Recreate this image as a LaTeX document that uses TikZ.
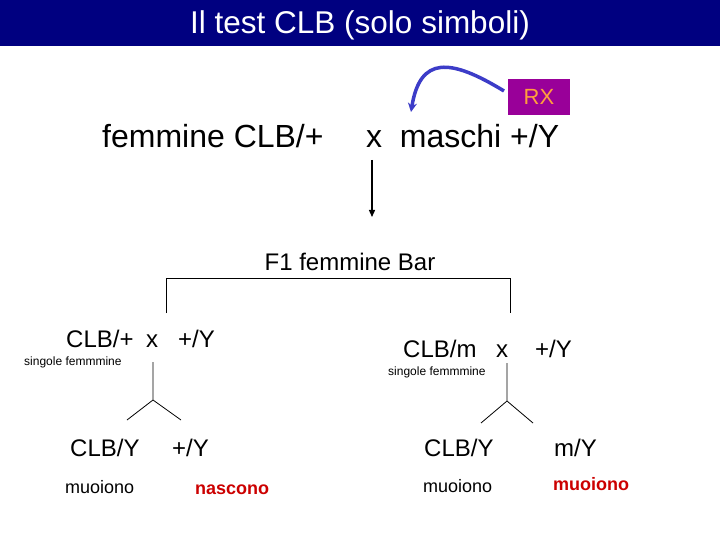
\documentclass[tikz,border=0pt]{standalone}
\usepackage{fontspec}
\setmainfont{Liberation Sans}
\usetikzlibrary{arrows.meta}
\definecolor{navybar}{RGB}{0,0,128}
\definecolor{rxpurple}{RGB}{153,0,153}
\definecolor{rxorange}{RGB}{255,160,60}
\definecolor{arrowblue}{RGB}{60,60,200}
\definecolor{deadred}{RGB}{204,0,0}
\begin{document}
\begin{tikzpicture}[x=1pt,y=-1pt,
  txt/.style={inner sep=0pt, anchor=base west},
  big/.style={txt, font=\fontsize{32}{37}\selectfont},
  mid/.style={txt, font=\fontsize{24}{28}\selectfont},
  small/.style={txt, font=\fontsize{12}{14}\selectfont},
  note/.style={txt, font=\fontsize{18}{21}\selectfont},
  rednote/.style={txt, font=\fontsize{18}{21}\selectfont\bfseries, text=deadred},
  tree/.style={line width=0.8pt, draw=black}]
\path[use as bounding box, fill=white] (0,0) rectangle (720,540);
% title bar
\fill[navybar] (0,0) rectangle (720,46);
\node[inner sep=0pt, anchor=base, text=white, font=\fontsize{31.5}{36}\selectfont] (title) at (360,34) {Il test CLB (solo simboli)};
% RX box
\node[fill=rxpurple, minimum width=62pt, minimum height=36pt, inner sep=0pt,
      text=rxorange, font=\fontsize{22}{25}\selectfont] (rx) at (539,97) {RX};
\coordinate (rxstart) at (504,91);
\coordinate (rxend) at (411,112);
\draw[arrowblue, line width=3.5pt, -{Stealth[length=9pt,width=9pt]}]
  (rxstart) .. controls (450,58) and (420,56) .. (rxend);
% parents
\node[big] (fem) at (102,148) {femmine CLB/+};
\node[big] (mas) at (366,148) {x\ \ maschi +/Y};
\coordinate (arrtop) at (372,160);
\coordinate (arrbot) at (372,217);
\draw[line width=1.3pt, -{Triangle[length=7pt,width=6pt]}] (arrtop) -- (arrbot);
% F1
\node[mid, anchor=base] (f1) at (350,270) {F1 femmine Bar};
\coordinate (bl) at (166,313);
\coordinate (blt) at (166,278);
\coordinate (brt) at (510,278);
\coordinate (br) at (510,313);
\draw[tree] (bl) -- (blt) -- (brt) -- (br);
% left cross
\node[mid] (lc1) at (66,347) {CLB/+};
\node[mid] (lx) at (146,347) {x};
\node[mid] (ly) at (178,347) {+/Y};
\node[small] (ls) at (24,365) {singole femmmine};
\coordinate (lt) at (153,362);
\coordinate (lm) at (153,400);
\coordinate (ll) at (127,420);
\coordinate (lr) at (181,420);
\draw[tree] (lt) -- (lm) (ll) -- (lm) -- (lr);
% right cross
\node[mid] (rc1) at (403,357) {CLB/m};
\node[mid] (rxx) at (496,357) {x};
\node[mid] (ry) at (535,357) {+/Y};
\node[small] (rs) at (388,375) {singole femmmine};
\coordinate (rt) at (507,363);
\coordinate (rm) at (507,401);
\coordinate (rl) at (481,423);
\coordinate (rr) at (533,423);
\draw[tree] (rt) -- (rm) (rl) -- (rm) -- (rr);
% offspring
\node[mid] (o1) at (70,456) {CLB/Y};
\node[mid] (o2) at (172,456) {+/Y};
\node[mid] (o3) at (424,456) {CLB/Y};
\node[mid] (o4) at (554,456) {m/Y};
\node[note] (n1) at (65,493) {muoiono};
\node[rednote] (n2) at (195,494) {nascono};
\node[note] (n3) at (423,492) {muoiono};
\node[rednote] (n4) at (553,490) {muoiono};
\end{tikzpicture}
\end{document}
